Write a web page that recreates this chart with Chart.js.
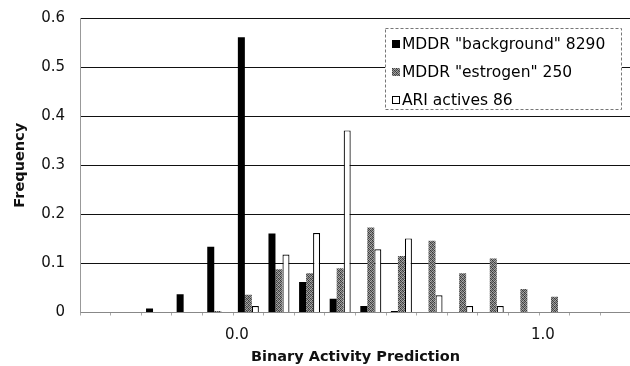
<!DOCTYPE html>
<html>
<head>
  <meta charset="utf-8">
  <title>Binary Activity Prediction</title>
  <script src="https://cdn.jsdelivr.net/npm/chart.js@4"></script>
  <style>
    html, body { margin: 0; padding: 0; background: #fff; overflow: hidden; }
    #wrap { width: 632px; height: 366px; }
  </style>
</head>
<body>
  <div id="wrap"><canvas id="chart"></canvas></div>

  <script>
    // bins of the prediction score
    const bins = ['-0.5', '-0.4', '-0.3', '-0.2', '-0.1', '0.0', '0.1', '0.2', '0.3',
                  '0.4', '0.5', '0.6', '0.7', '0.8', '0.9', '1.0', '1.1', '1.2'];
    const shownBins = ['0.0', '1.0'];

    const seriesNames = ['MDDR "background" 8290', 'MDDR "estrogen" 250', 'ARI actives 86'];
    const background = [0, 0, 0.008, 0.037, 0.134, 0.561, 0.161, 0.062, 0.028, 0.013, 0.003, 0, 0, 0, 0, 0, 0, 0];
    const estrogen   = [0, 0, 0, 0, 0.003, 0.036, 0.088, 0.080, 0.090, 0.173, 0.115, 0.146, 0.080, 0.110, 0.048, 0.032, 0, 0];
    const ariActives = [0, 0, 0, 0, 0, 0.013, 0.118, 0.162, 0.371, 0.129, 0.151, 0.035, 0.013, 0.013, 0, 0, 0, 0];

    const yTicks = [0, 0.1, 0.2, 0.3, 0.4, 0.5, 0.6];

    // speckled grey fill like the printed original
    function grainPattern() {
      const c = document.createElement('canvas');
      c.width = 4; c.height = 4;
      const g = c.getContext('2d');
      const shades = ['#333', '#999', '#555', '#aaa',
                      '#888', '#444', '#b0b0b0', '#666',
                      '#4a4a4a', '#a0a0a0', '#3a3a3a', '#8a8a8a',
                      '#aaa', '#5a5a5a', '#909090', '#404040'];
      shades.forEach((s, i) => {
        g.fillStyle = s;
        g.fillRect(i % 4, Math.floor(i / 4), 1, 1);
      });
      return g.createPattern(c, 'repeat');
    }

    const FONT = '"DejaVu Sans", "Liberation Sans", Arial, sans-serif';

    // legend box drawn inside the plot, top right
    const boxLegend = {
      id: 'boxLegend',
      afterDatasetsDraw(chart) {
        const ctx = chart.ctx;
        const x0 = 385, y0 = 28, w = 237, h = 82;
        ctx.save();
        ctx.fillStyle = '#fff';
        ctx.fillRect(x0, y0, w, h);
        ctx.setLineDash([3, 2]);
        ctx.strokeStyle = '#777';
        ctx.lineWidth = 1;
        ctx.strokeRect(x0 + 0.5, y0 + 0.5, w - 1, h - 1);
        ctx.setLineDash([]);
        ctx.font = '15.5px ' + FONT;
        ctx.textBaseline = 'middle';
        chart.data.datasets.forEach((ds, i) => {
          const y = y0 + 16 + i * 28;
          ctx.fillStyle = ds.backgroundColor;
          ctx.fillRect(x0 + 7, y - 4, 8, 8);
          if (ds.borderWidth) {
            ctx.strokeStyle = '#000';
            ctx.strokeRect(x0 + 7.5, y - 3.5, 7, 7);
          }
          ctx.fillStyle = '#000';
          ctx.fillText(ds.label, x0 + 17, y + 1);
        });
        ctx.restore();
      }
    };

    const ctx = document.getElementById('chart').getContext('2d');

    new Chart(ctx, {
      type: 'bar',
      data: {
        labels: bins,
        datasets: [
          { label: seriesNames[0], data: background, backgroundColor: '#000', borderWidth: 0 },
          { label: seriesNames[1], data: estrogen, backgroundColor: grainPattern(), borderWidth: 0 },
          { label: seriesNames[2], data: ariActives, backgroundColor: '#fff', borderColor: '#000', borderWidth: 1.2 }
        ]
      },
      options: {
        responsive: true,
        maintainAspectRatio: false,
        animation: false,
        events: [],
        categoryPercentage: 0.686,
        barPercentage: 1.0,
        layout: { padding: { top: 18, right: 1, bottom: 0, left: 0 } },
        plugins: {
          legend: { display: false },
          tooltip: { enabled: false }
        },
        scales: {
          x: {
            grid: {
              drawOnChartArea: false,
              drawTicks: true,
              tickLength: 3,
              color: '#aaa'
            },
            border: { color: '#888' },
            ticks: {
              autoSkip: false,
              maxRotation: 0,
              padding: 11,
              labelOffset: -11.5,
              color: '#111',
              font: { family: FONT, size: 15 },
              callback: function (v, i) {
                return shownBins.includes(bins[i]) ? bins[i] : '';
              }
            },
            title: {
              display: true,
              text: 'Binary Activity Prediction',
              color: '#111',
              font: { family: FONT, size: 14.5, weight: 'bold' },
              padding: { top: 0, bottom: 0 }
            },
            afterFit: function (scale) { scale.height = 53.5; }
          },
          y: {
            min: 0,
            max: 0.6,
            afterBuildTicks: function (scale) {
              scale.ticks = yTicks.map(v => ({ value: v }));
            },
            grid: {
              drawTicks: false,
              color: ctx => ctx.tick && ctx.tick.value === 0 ? '#888' : '#111'
            },
            border: { color: '#999' },
            ticks: {
              padding: 15,
              color: '#111',
              font: { family: FONT, size: 15 },
              callback: v => v === 0 ? '0' : v.toFixed(1)
            },
            title: {
              display: true,
              text: 'Frequency',
              color: '#111',
              font: { family: FONT, size: 14.5, weight: 'bold' },
              padding: { top: 12, bottom: 4 }
            },
            afterFit: function (scale) {
              scale.width = 80;
              scale.paddingTop = 0;
              scale.paddingBottom = 0;
            }
          }
        }
      },
      plugins: [boxLegend]
    });
  </script>
</body>
</html>
